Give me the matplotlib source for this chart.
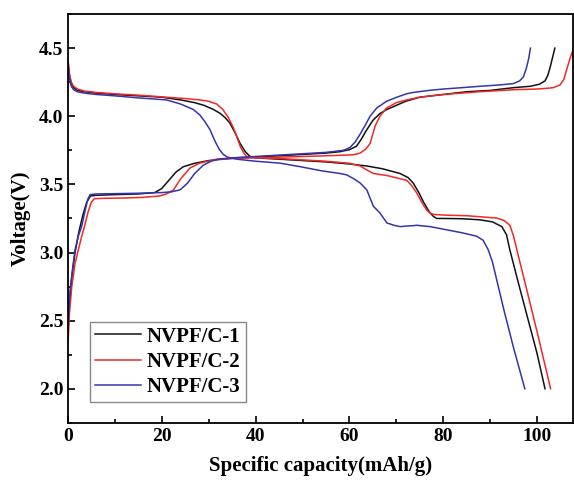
import matplotlib
matplotlib.use("Agg")
import matplotlib.pyplot as plt
from matplotlib.ticker import MultipleLocator

plt.rcParams['font.family'] = ['Liberation Serif', 'DejaVu Serif']
plt.rcParams['font.weight'] = 'bold'

labels = ["NVPF/C-1", "NVPF/C-2", "NVPF/C-3"]
colors = ["#111111", "#f02828", "#3434b0"]

# NVPF/C-1 charge / discharge
chg1_x = [0, 0.3, 0.8, 1.5, 2.3, 3.2, 4.0, 4.8, 6, 10, 15, 18.5, 20, 21.5, 23, 24.6, 27, 30, 33, 36,
          40, 45, 50, 55, 58, 60, 61.5, 62.5, 63.5, 65, 66.5, 68, 70, 72, 75, 80, 85, 90, 95, 98.5,
          100.5, 101.7, 102.3, 102.8, 103.3, 103.8]
chg1_y = [2.45, 2.65, 2.82, 3.0, 3.15, 3.28, 3.37, 3.415, 3.42, 3.425, 3.43, 3.44, 3.47, 3.53, 3.59, 3.63,
          3.655, 3.675, 3.685, 3.695, 3.70, 3.71, 3.72, 3.73, 3.74, 3.755, 3.78, 3.83, 3.89, 3.97, 4.02,
          4.05, 4.08, 4.11, 4.14, 4.16, 4.18, 4.19, 4.21, 4.22, 4.235, 4.26, 4.30, 4.36, 4.43, 4.5]
dis1_x = [0, 0.3, 0.7, 1.2, 2, 3.5, 6, 10, 15, 20, 24, 27, 29, 31, 32.5, 33.5, 34.5, 35.6, 36.7, 37.8,
          38.8, 40, 45, 50, 55, 60, 63.7, 67, 70.8, 72.5, 73.6, 74.8, 75.8, 77, 77.9, 78.6, 80, 84, 87.8,
          90.5, 92.5, 93.5, 94.2, 96, 98, 100, 101.7]
dis1_y = [4.40, 4.30, 4.24, 4.21, 4.19, 4.18, 4.17, 4.16, 4.15, 4.14, 4.12, 4.10, 4.08, 4.05, 4.02, 3.99,
          3.95, 3.88, 3.80, 3.74, 3.705, 3.695, 3.685, 3.675, 3.665, 3.65, 3.635, 3.615, 3.58, 3.55, 3.51,
          3.44, 3.37, 3.30, 3.265, 3.25, 3.25, 3.248, 3.24, 3.225, 3.19, 3.13, 3.02, 2.78, 2.52, 2.26, 2.0]

# NVPF/C-2 charge / discharge
chg2_x = [0, 0.3, 0.8, 1.5, 2.2, 3.0, 3.5, 4.3, 5.0, 5.6, 8, 12, 16, 19.5, 21, 22.5, 24, 26, 28, 31.7,
          35, 40, 45, 50, 55, 60.8, 62.3, 63.5, 64.4, 65.5, 66.5, 67.9, 70, 72.2, 75, 80, 87.8, 95, 100,
          102, 103.5, 104.9, 105.7, 106.3, 107, 107.7]
chg2_y = [2.33, 2.55, 2.75, 2.92, 3.02, 3.13, 3.19, 3.30, 3.37, 3.395, 3.398, 3.40, 3.405, 3.415, 3.43,
          3.46, 3.54, 3.62, 3.655, 3.685, 3.69, 3.695, 3.70, 3.705, 3.71, 3.717, 3.73, 3.76, 3.80, 3.93,
          4.0, 4.06, 4.10, 4.12, 4.14, 4.16, 4.18, 4.195, 4.20, 4.205, 4.21, 4.23, 4.27, 4.34, 4.42, 4.49]
dis2_x = [0, 0.3, 0.7, 1.2, 2, 3.5, 6, 10, 15, 21, 25, 28.1, 30, 31.7, 33, 34.2, 35.2, 36, 36.7, 37.5,
          38.1, 40, 45, 50, 55, 60, 62.3, 63.5, 65.1, 68, 72.2, 73.3, 74.3, 75.4, 76.5, 77.2, 77.9, 80, 85,
          91.4, 93, 94.2, 95, 95.7, 97.5, 100, 102.9]
dis2_y = [4.42, 4.31, 4.25, 4.22, 4.20, 4.185, 4.175, 4.165, 4.155, 4.14, 4.13, 4.12, 4.11, 4.09, 4.05,
          3.99, 3.92, 3.85, 3.78, 3.73, 3.705, 3.695, 3.69, 3.68, 3.67, 3.655, 3.635, 3.61, 3.58, 3.565,
          3.53, 3.49, 3.44, 3.37, 3.31, 3.29, 3.28, 3.275, 3.27, 3.253, 3.235, 3.20, 3.12, 3.02, 2.77,
          2.42, 2.0]

# NVPF/C-3 charge / discharge
chg3_x = [0, 0.3, 0.64, 1.0, 1.5, 2.2, 2.9, 3.6, 4.2, 4.7, 6, 10, 15, 20, 22, 23.9, 25.5, 27, 28.8,
          30.5, 32, 35, 40, 45, 50, 55, 58.7, 60.1, 61.2, 62.3, 63.3, 64.4, 65.8, 67.9, 70.1, 72.2, 73.6,
          77, 80, 84, 87.8, 92, 95, 96.3, 97.1, 97.7, 98.2, 98.6]
chg3_y = [2.44, 2.65, 2.78, 2.89, 3.02, 3.12, 3.19, 3.30, 3.39, 3.425, 3.43, 3.432, 3.435, 3.44, 3.445,
          3.46, 3.51, 3.58, 3.64, 3.67, 3.685, 3.695, 3.705, 3.715, 3.725, 3.735, 3.75, 3.77, 3.81, 3.87,
          3.93, 4.0, 4.06, 4.11, 4.14, 4.165, 4.175, 4.19, 4.20, 4.21, 4.22, 4.23, 4.24, 4.26, 4.29, 4.35,
          4.42, 4.5]
dis3_x = [0, 0.3, 0.7, 1.2, 2, 3.5, 6, 10, 15, 21, 24, 26.7, 28.1, 29.2, 30.3, 31.3, 32.2, 33.1, 34, 36,
          40, 45.2, 49.5, 54, 58, 59.4, 61, 62.3, 63.7, 65.1, 66.5, 68, 69.5, 70.8, 72.5, 73.6, 74.3, 77.2,
          81, 84, 87.1, 88.5, 89.6, 90.5, 91.4, 93, 95, 97.4]
dis3_y = [4.38, 4.28, 4.22, 4.195, 4.18, 4.17, 4.16, 4.15, 4.135, 4.12, 4.09, 4.05, 4.01, 3.96, 3.90,
          3.82, 3.76, 3.72, 3.70, 3.685, 3.67, 3.656, 3.63, 3.60, 3.58, 3.57, 3.54, 3.51, 3.46, 3.34, 3.29,
          3.217, 3.20, 3.19, 3.195, 3.197, 3.20, 3.19, 3.165, 3.145, 3.12, 3.09, 3.02, 2.93, 2.80, 2.57,
          2.30, 2.0]

curves = [(chg1_x, chg1_y, dis1_x, dis1_y),
          (chg2_x, chg2_y, dis2_x, dis2_y),
          (chg3_x, chg3_y, dis3_x, dis3_y)]

fig = plt.figure(figsize=(5.74, 4.86), dpi=100)
ax = fig.add_axes([0.1185, 0.13, 0.88, 0.841])

for (cx, cy, dx, dy), lab, col in zip(curves, labels, colors):
    ax.plot(cx, cy, color=col, lw=1.1, label=lab)
    ax.plot(dx, dy, color=col, lw=1.1)

ax.set_xlim(0, 107.7)
ax.set_ylim(1.75, 4.75)
ax.xaxis.set_major_locator(MultipleLocator(20))
ax.xaxis.set_minor_locator(MultipleLocator(10))
ax.yaxis.set_major_locator(MultipleLocator(0.5))
ax.yaxis.set_minor_locator(MultipleLocator(0.25))
ax.tick_params(which='both', direction='in', top=False, right=False, labelsize=14, width=1.2)
ax.tick_params(which='major', length=5)
ax.tick_params(which='minor', length=3)
for s in ax.spines.values():
    s.set_linewidth(1.3)

ax.set_xlabel("Specific capacity(mAh/g)", fontsize=15, fontweight='bold', labelpad=8)
ax.set_ylabel("Voltage(V)", fontsize=15, fontweight='bold', labelpad=6)

leg = ax.legend(loc='lower left', bbox_to_anchor=(0.043, 0.05), borderaxespad=0, fontsize=15,
                fancybox=False, edgecolor='#888888', handlelength=2.2, handletextpad=0.3,
                labelspacing=0.25, borderpad=0.25, framealpha=1)
leg.get_frame().set_linewidth(1.0)

fig.savefig("out.png", dpi=100)
